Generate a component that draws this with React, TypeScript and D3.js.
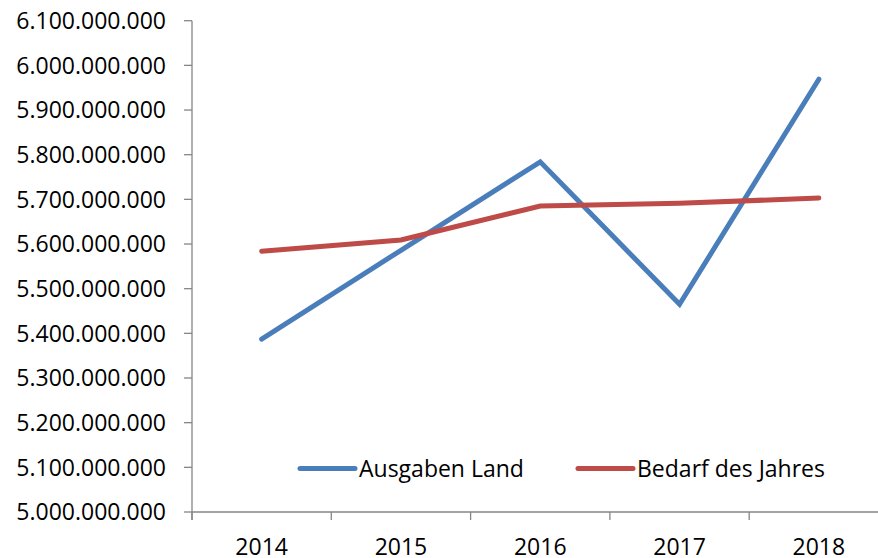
import * as d3 from 'd3'
import { useEffect, useRef } from 'react'

const years = ['2014', '2015', '2016', '2017', '2018']
const ausgabenLand = [5387000000, 5586000000, 5784000000, 5465000000, 5969000000]
const bedarfJahres = [5584000000, 5609000000, 5685000000, 5691000000, 5703000000]
const yTicks = d3.range(5000000000, 6100000001, 100000000)

const series = [
  { name: 'Ausgaben Land', values: ausgabenLand, color: '#4a7ebb' },
  { name: 'Bedarf des Jahres', values: bedarfJahres, color: '#be4b48' },
]

const fmt = (v: number) => d3.format(',')(v).replace(/,/g, '.')

export default function App() {
  const ref = useRef<SVGSVGElement | null>(null)

  useEffect(() => {
    const el = ref.current
    if (!el) return
    const svg = d3.select(el)
    svg.selectAll('*').remove()
    const width = 878
    const height = 558
    const left = 192
    const bottom = 512
    const top = 20.7
    const font = '"Open Sans", sans-serif'
    const axisColor = '#868686'

    const x = d3.scaleBand().domain(years).range([left, left + 139.3 * years.length])
    const y = d3.scaleLinear().domain([5000000000, 6100000000]).range([bottom, top])

    // y axis
    svg.append('line')
      .attr('x1', left).attr('x2', left).attr('y1', top).attr('y2', bottom + 8)
      .attr('stroke', axisColor).attr('stroke-width', 1.3)
    svg.selectAll('.yt').data(yTicks).enter().append('line')
      .attr('x1', left - 8).attr('x2', left)
      .attr('y1', (d) => y(d)).attr('y2', (d) => y(d))
      .attr('stroke', axisColor).attr('stroke-width', 1.3)
    svg.selectAll('.yl').data(yTicks).enter().append('text')
      .attr('x', 166).attr('y', (d) => y(d)).attr('dy', '0.36em')
      .attr('text-anchor', 'end')
      .attr('font-family', font).attr('font-size', 23)
      .attr('fill', '#000')
      .text((d) => fmt(d))

    // x axis
    svg.append('line')
      .attr('x1', left).attr('x2', width).attr('y1', bottom).attr('y2', bottom)
      .attr('stroke', axisColor).attr('stroke-width', 1.3)
    svg.selectAll('.xt').data(years).enter().append('line')
      .attr('x1', (d) => x(d) as number).attr('x2', (d) => x(d) as number)
      .attr('y1', bottom).attr('y2', bottom + 8)
      .attr('stroke', axisColor).attr('stroke-width', 1.3)
    svg.selectAll('.xl').data(years).enter().append('text')
      .attr('x', (d) => (x(d) as number) + x.bandwidth() / 2)
      .attr('y', 555)
      .attr('text-anchor', 'middle')
      .attr('font-family', font).attr('font-size', 23)
      .attr('fill', '#000')
      .text((d) => d)

    const line = d3.line<number>()
      .x((_, i) => (x(years[i]) as number) + x.bandwidth() / 2)
      .y((d) => y(d))

    series.forEach((s) => {
      svg.append('path')
        .attr('d', line(s.values))
        .attr('fill', 'none')
        .attr('stroke', s.color)
        .attr('stroke-width', 5)
        .attr('stroke-linecap', 'round')
        .attr('stroke-linejoin', 'miter')
    })

    // legend
    const legendX = [300, 578]
    series.forEach((s, i) => {
      const lx = legendX[i]
      svg.append('line')
        .attr('x1', lx).attr('x2', lx + 55).attr('y1', 468.5).attr('y2', 468.5)
        .attr('stroke', s.color).attr('stroke-width', 5).attr('stroke-linecap', 'round')
      svg.append('text')
        .attr('x', lx + 59).attr('y', 468.5).attr('dy', '0.36em')
        .attr('font-family', font).attr('font-size', 23)
        .attr('fill', '#000')
        .text(s.name)
    })

    svg.attr('width', width).attr('height', height)
  }, [])

  return (
    <svg
      ref={ref}
      width={878}
      height={558}
      style={{ position: 'absolute', left: 0, top: 0, background: '#fff' }}
    />
  )
}
